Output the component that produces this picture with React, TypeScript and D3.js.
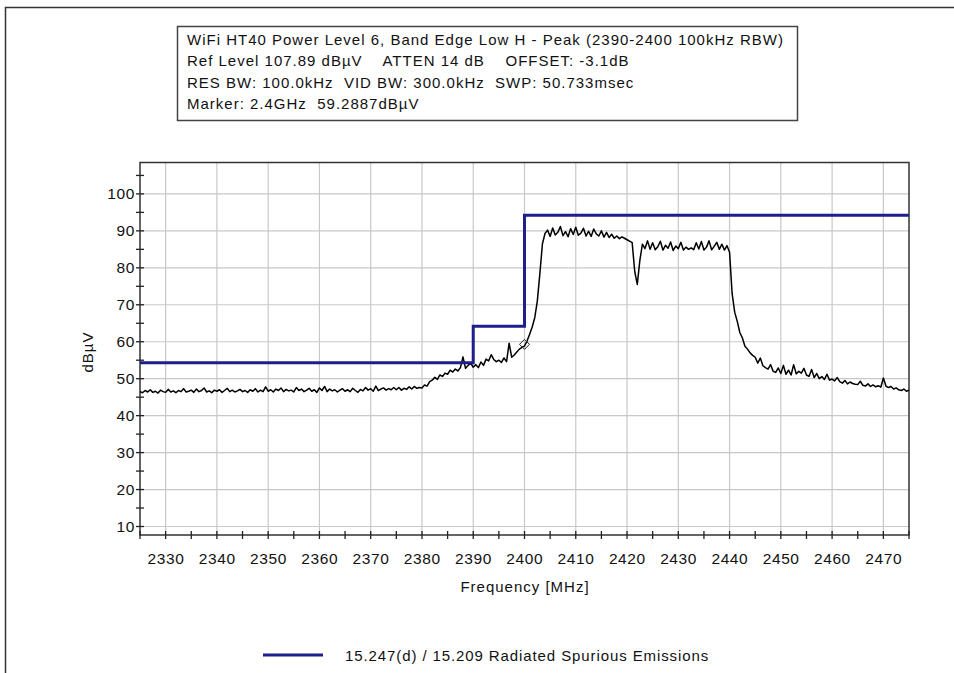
import React from "react";
import * as d3 from "d3";

const W = 954;
const H = 673;

const titleLines = [
  "WiFi HT40 Power Level 6, Band Edge Low H - Peak (2390-2400 100kHz RBW)",
  "Ref Level 107.89 dBµV    ATTEN 14 dB    OFFSET: -3.1dB",
  "RES BW: 100.0kHz  VID BW: 300.0kHz  SWP: 50.733msec",
  "Marker: 2.4GHz  59.2887dBµV",
];

const xTickLabels = [2330, 2340, 2350, 2360, 2370, 2380, 2390, 2400, 2410, 2420, 2430, 2440, 2450, 2460, 2470];
const yTickLabels = [10, 20, 30, 40, 50, 60, 70, 80, 90, 100];

const limitFreqs = [2325, 2390, 2390, 2400, 2400, 2475];
const limitLevels = [54.3, 54.3, 64.2, 64.2, 94.2, 94.2];

const markerFreq = 2400;
const markerLevel = 59.2887;

const traceStartMHz = 2325;
const traceStepMHz = 0.5;
const traceLevels = [
  46.5, 46.2, 46.8, 46.4, 47.0, 46.3, 46.6, 46.1, 46.9, 46.5, 46.3, 47.1, 46.4, 46.7, 46.2, 46.8, 46.5, 47.3, 46.4, 46.6,
  46.9, 46.3, 47.2, 46.5, 46.8, 47.5, 46.4, 46.7, 46.2, 46.9, 46.6, 47.0, 46.3, 46.8, 47.4, 46.5, 46.9, 46.4, 46.7, 47.1,
  46.5, 46.8, 46.3, 47.0, 46.6, 47.3, 46.4, 46.9, 46.5, 47.8, 46.6, 47.0, 46.4, 47.2, 46.8, 47.5, 46.5, 47.1, 46.7, 46.9,
  46.4, 47.6, 46.8, 47.2, 46.5, 46.9, 47.4, 46.6, 47.0, 46.3, 47.5, 46.8, 47.9, 46.5, 47.2, 46.7, 47.0, 46.4, 46.9, 47.3,
  46.6, 47.0, 46.5, 47.4, 46.8, 46.3, 47.1, 46.7, 47.6, 46.9, 47.3, 46.6, 48.0, 46.8, 47.2, 47.5, 46.9, 47.3, 47.0, 47.6,
  47.0, 47.6, 46.9, 47.4, 47.1, 47.8, 47.2, 47.9, 47.4, 47.6, 47.5, 48.3, 48.0, 49.2, 49.6, 50.4, 49.8, 51.0, 50.6, 51.5,
  51.2, 52.3, 51.8, 52.6, 52.1, 53.0, 55.9, 52.8, 53.6, 54.2, 53.1, 53.8, 53.0, 54.5, 53.6, 55.3, 54.8, 56.5, 55.2, 54.6,
  55.0, 54.4, 55.6, 54.6, 59.6, 55.8, 56.4, 57.2, 58.0, 58.5, 58.8, 60.2, 62.0, 64.0, 66.5, 71.0, 78.5, 86.5, 89.3, 90.2,
  88.5, 90.8, 88.9, 89.6, 91.2, 88.7, 89.8, 88.4, 90.6, 89.0, 91.0, 88.8, 89.4, 90.7, 88.6, 89.9, 88.5, 90.5, 89.2, 88.6,
  90.0, 88.3, 89.6, 88.2, 89.1, 88.0, 88.6, 87.9, 88.4, 88.0, 87.6, 87.2, 86.8, 79.0, 75.5, 82.0, 86.4, 85.2, 87.3, 85.0,
  86.8, 84.9, 85.7, 87.2, 84.8, 86.1, 85.3, 87.0, 84.7, 85.9, 85.2, 86.9, 84.8, 85.6, 85.0, 85.4, 84.9, 86.8, 85.1, 87.1,
  84.8, 85.6, 87.3, 84.9, 85.8, 86.9, 85.0, 86.4, 84.8, 86.0, 84.2, 73.0, 68.0, 65.5, 62.5, 61.0, 58.8, 58.0, 57.0, 56.3,
  55.8, 54.2, 55.6, 53.5, 53.0, 52.6, 53.8, 52.0, 51.7, 52.9, 51.4, 53.6, 51.2, 52.3, 51.0, 53.8, 51.3, 52.0, 51.5, 52.8,
  51.0, 50.6, 52.5, 50.3, 51.4, 50.0, 50.6, 49.8, 51.2, 49.6, 49.9, 49.4, 50.3, 49.2, 48.8, 49.5, 48.6, 49.1, 48.7, 48.5,
  48.4, 49.3, 48.2, 48.0, 48.6, 47.9, 48.3, 47.8, 48.1, 47.7, 50.2, 48.0, 47.6, 47.9, 47.2, 47.5, 47.0, 46.8, 47.2, 46.6,
  46.9,
];

const legendLabel = "15.247(d) / 15.209 Radiated Spurious Emissions";
const xAxisTitle = "Frequency [MHz]";
const yAxisTitle = "dBµV";

const FONT = "'Liberation Sans', Arial, sans-serif";
const NAVY = "#1e1e8c";

export default function App() {
  const left = 140, right = 909, top = 162.5, bottom = 535;
  const x = d3.scaleLinear().domain([2325, 2475]).range([left, right]);
  const y = d3.scaleLinear().domain([7.7, 108.5]).range([bottom, top]);

  const xMinor = d3.range(2325, 2475.1, 5);
  const yMinor = d3.range(10, 108.5, 5);

  const tracePts: [number, number][] = traceLevels.map((v, i) => [traceStartMHz + i * traceStepMHz, v]);
  const line = d3.line<[number, number]>().x((d) => x(d[0])).y((d) => y(d[1]));
  const limitPts: [number, number][] = limitFreqs.map((f, i) => [f, limitLevels[i]]);

  const mx = x(markerFreq), my = y(markerLevel);

  return (
    <svg width={W} height={H} style={{ position: "absolute", left: 0, top: 0, background: "#fff" }} fontFamily={FONT}>
      <rect x={0} y={0} width={W} height={H} fill="#fff" />
      {/* outer frame */}
      <path d={`M5.5,${H} V7.5 H${W}`} fill="none" stroke="#333" strokeWidth={1.5} />

      {/* title box */}
      <rect x={177.5} y={26.5} width={620} height={94} fill="#fff" stroke="#444" strokeWidth={1.5} />
      {titleLines.map((t, i) => (
        <text key={i} x={187} y={45 + i * 21.3} fontSize={15} letterSpacing={1} fill="#111" style={{ whiteSpace: "pre" }}>
          {t}
        </text>
      ))}

      {/* grid */}
      {xTickLabels.map((v) => (
        <line key={"gx" + v} x1={x(v)} x2={x(v)} y1={top} y2={bottom} stroke="#c8c8c8" strokeWidth={1.2} />
      ))}
      {yTickLabels.map((v) => (
        <line key={"gy" + v} x1={left} x2={right} y1={y(v)} y2={y(v)} stroke="#c8c8c8" strokeWidth={1.2} />
      ))}

      {/* plot frame */}
      <rect x={left} y={top} width={right - left} height={bottom - top} fill="none" stroke="#333" strokeWidth={1.5} />

      {/* ticks */}
      {yMinor.map((v) => (
        <line key={"ty" + v} x1={left - 4} x2={left + 4} y1={y(v)} y2={y(v)} stroke="#222" strokeWidth={1.3} />
      ))}
      {xMinor.map((v) => (
        <line key={"tx" + v} x1={x(v)} x2={x(v)} y1={bottom - 4} y2={bottom + 4} stroke="#222" strokeWidth={1.3} />
      ))}

      {/* tick labels */}
      {yTickLabels.map((v) => (
        <text key={"ly" + v} x={left - 5} y={y(v) + 5.5} fontSize={15.5} letterSpacing={0.6} textAnchor="end" fill="#111">
          {v}
        </text>
      ))}
      {xTickLabels.map((v) => (
        <text key={"lx" + v} x={x(v) + 0.3} y={564} fontSize={15.5} letterSpacing={0.6} textAnchor="middle" fill="#111">
          {v}
        </text>
      ))}

      {/* axis titles */}
      <text x={525} y={592} fontSize={15} letterSpacing={1} textAnchor="middle" fill="#111">
        {xAxisTitle}
      </text>
      <text transform="translate(93,352) rotate(-90)" fontSize={15} letterSpacing={1} textAnchor="middle" fill="#111">
        {yAxisTitle}
      </text>

      {/* trace */}
      <path d={line(tracePts) || ""} fill="none" stroke="#000" strokeWidth={1.5} strokeLinejoin="round" />

      {/* limit */}
      <path d={line(limitPts) || ""} fill="none" stroke={NAVY} strokeWidth={3} />

      {/* marker */}
      <path d={`M${mx},${my - 5} L${mx + 5},${my} L${mx},${my + 5} L${mx - 5},${my} Z`} fill="none" stroke="#222" strokeWidth={1} />

      {/* legend */}
      <line x1={263} x2={323} y1={655} y2={655} stroke={NAVY} strokeWidth={3} />
      <text x={345} y={661} fontSize={15} letterSpacing={0.9} fill="#111">
        {legendLabel}
      </text>
    </svg>
  );
}
